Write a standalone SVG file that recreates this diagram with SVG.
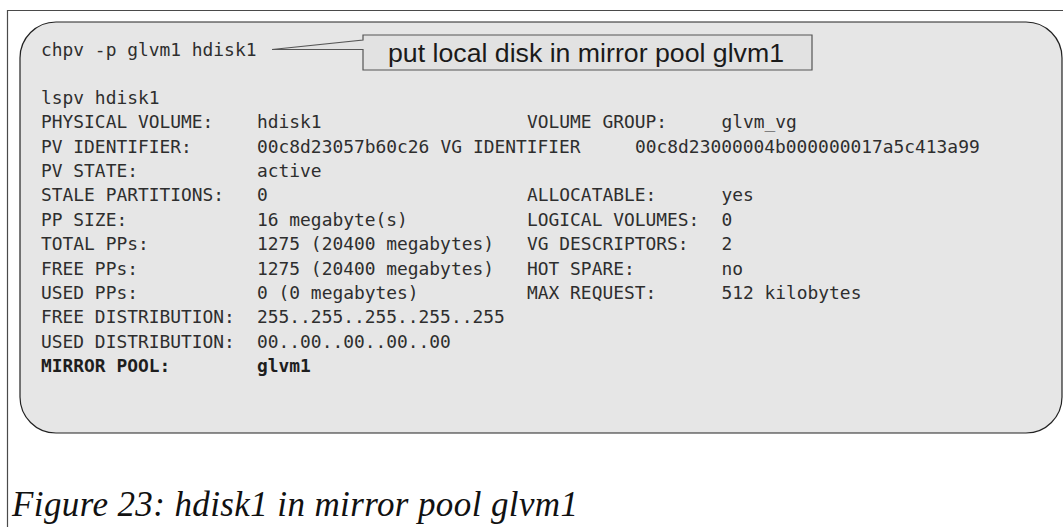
<svg xmlns="http://www.w3.org/2000/svg" width="1063" height="527" viewBox="0 0 1063 527">
  <style>
    .frame { fill: none; stroke: #4a4a4a; stroke-width: 1.2; }
    .panel { fill: #e6e6e6; stroke: #222; stroke-width: 1.2; }
    .callout { fill: #e2e2e2; stroke: #555; stroke-width: 1.2; stroke-linejoin: miter; }
    .mono { font-family: "DejaVu Sans Mono", "Liberation Mono", monospace; font-size: 17.9px; fill: #2e2e2e; }
    .bold { font-weight: bold; fill: #1e1e1e; }
    .note { font-family: "Liberation Sans", Arial, sans-serif; font-size: 26.7px; fill: #1a1a1a; }
    .caption { font-family: "Liberation Serif", "Times New Roman", serif; font-style: italic; font-size: 35px; fill: #111; }
  </style>

  <!-- page frame: top and left rules only -->
  <path class="frame" d="M7.5,527 V10.5 H1063"/>

  <!-- grey terminal panel -->
  <g id="panel">
    <rect class="panel" x="20" y="22" width="1042" height="411" rx="36" ry="36"/>
  </g>

  <!-- callout box with its pointer toward the command -->
  <g id="callout">
    <path class="callout" d="M363,35 H812 V70 H363 V49.5 L272,49.5 L363,40 Z"/>
    <text class="note" x="388" y="62">put local disk in mirror pool glvm1</text>
  </g>

  <!-- command output -->
  <g id="output" class="mono">
    <text x="41" y="56">chpv -p glvm1 hdisk1</text>
    <text x="41" y="104">lspv hdisk1</text>

    <text x="41" y="128.4">PHYSICAL VOLUME:</text>
    <text x="257" y="128.4">hdisk1</text>
    <text x="527" y="128.4">VOLUME GROUP:</text>
    <text x="721.4" y="128.4">glvm_vg</text>

    <text x="41" y="152.7">PV IDENTIFIER:</text>
    <text x="257" y="152.7">00c8d23057b60c26</text>
    <text x="440.6" y="152.7">VG IDENTIFIER</text>
    <text x="635" y="152.7">00c8d23000004b000000017a5c413a99</text>

    <text x="41" y="177.1">PV STATE:</text>
    <text x="257" y="177.1">active</text>

    <text x="41" y="201.4">STALE PARTITIONS:</text>
    <text x="257" y="201.4">0</text>
    <text x="527" y="201.4">ALLOCATABLE:</text>
    <text x="721.4" y="201.4">yes</text>

    <text x="41" y="225.8">PP SIZE:</text>
    <text x="257" y="225.8">16 megabyte(s)</text>
    <text x="527" y="225.8">LOGICAL VOLUMES:</text>
    <text x="721.4" y="225.8">0</text>

    <text x="41" y="250.2">TOTAL PPs:</text>
    <text x="257" y="250.2">1275 (20400 megabytes)</text>
    <text x="527" y="250.2">VG DESCRIPTORS:</text>
    <text x="721.4" y="250.2">2</text>

    <text x="41" y="274.5">FREE PPs:</text>
    <text x="257" y="274.5">1275 (20400 megabytes)</text>
    <text x="527" y="274.5">HOT SPARE:</text>
    <text x="721.4" y="274.5">no</text>

    <text x="41" y="298.9">USED PPs:</text>
    <text x="257" y="298.9">0 (0 megabytes)</text>
    <text x="527" y="298.9">MAX REQUEST:</text>
    <text x="721.4" y="298.9">512 kilobytes</text>

    <text x="41" y="323.2">FREE DISTRIBUTION:</text>
    <text x="257" y="323.2">255..255..255..255..255</text>

    <text x="41" y="347.6">USED DISTRIBUTION:</text>
    <text x="257" y="347.6">00..00..00..00..00</text>

    <text class="bold" x="41" y="372">MIRROR POOL:</text>
    <text class="bold" x="257" y="372">glvm1</text>
  </g>

  <text class="caption" x="12" y="516" textLength="566" lengthAdjust="spacing">Figure 23: hdisk1 in mirror pool glvm1</text>
</svg>
